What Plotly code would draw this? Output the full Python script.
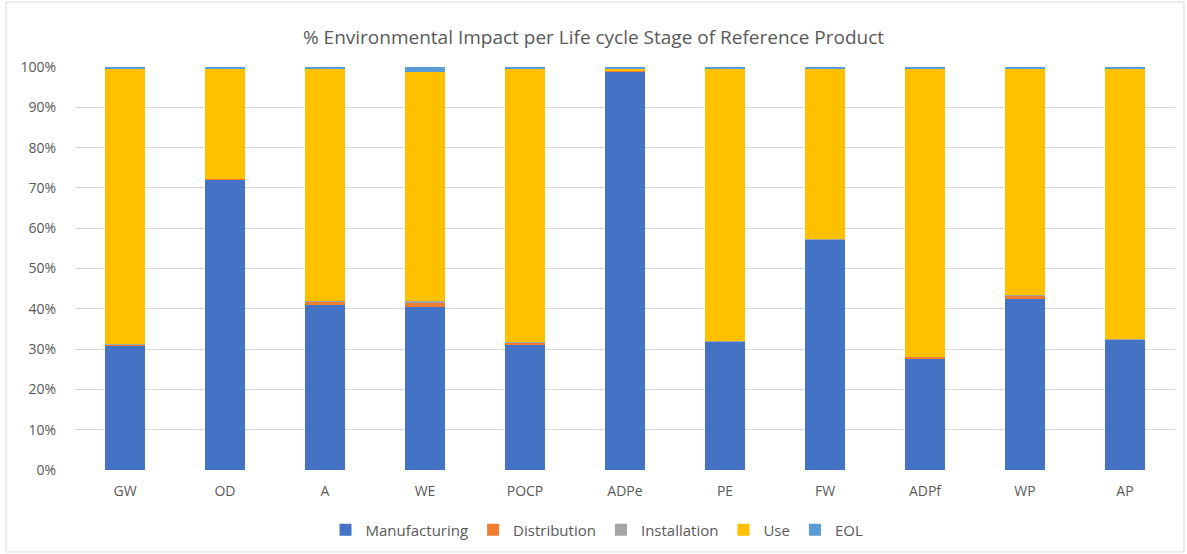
import plotly.graph_objects as go

categories = ["GW", "OD", "A", "WE", "POCP", "ADPe", "PE", "FW", "ADPf", "WP", "AP"]
manufacturing = [30.8, 72.2, 41.0, 40.5, 30.9, 99.0, 31.8, 57.2, 27.7, 42.5, 32.4]
distribution = [0.4, 0.05, 0.8, 1.0, 0.8, 0.05, 0.1, 0.05, 0.4, 0.9, 0.1]
installation = [0.05, 0.02, 0.2, 0.5, 0.1, 0.02, 0.05, 0.02, 0.05, 0.1, 0.05]
use = [68.35, 27.33, 57.6, 56.7, 67.8, 0.63, 67.65, 42.33, 71.45, 56.1, 67.05]
eol = [0.4, 0.4, 0.4, 1.3, 0.4, 0.3, 0.4, 0.4, 0.4, 0.4, 0.4]

series = [
    ("Manufacturing", manufacturing, "#4472C4"),
    ("Distribution", distribution, "#ED7D31"),
    ("Installation", installation, "#A5A5A5"),
    ("Use", use, "#FFC000"),
    ("EOL", eol, "#5B9BD5"),
]

FONT = "'Open Sans', Lato, sans-serif"
GRAY = "#595959"

fig = go.Figure()
for name, vals, color in series:
    fig.add_trace(go.Bar(name=name, x=categories, y=vals,
                         marker=dict(color=color, line=dict(width=0))))

fig.update_layout(
    barmode="stack",
    bargap=0.6,
    width=1187, height=554,
    margin=dict(l=75, r=12, t=67, b=84),
    paper_bgcolor="white", plot_bgcolor="white",
    font=dict(family=FONT, color=GRAY, size=14),
    title=dict(text="% Environmental Impact per Life cycle Stage of Reference Product",
               x=0.5, xanchor="center", y=1 - 37 / 554, yanchor="middle",
               font=dict(size=19, color=GRAY, family=FONT)),
    legend=dict(orientation="h", x=(597 - 75) / 1100, xanchor="center",
                yref="container", y=1 - 530 / 554, yanchor="middle",
                font=dict(size=15, color=GRAY),
                traceorder="normal", itemwidth=30),
    yaxis=dict(range=[0, 100], dtick=10, ticksuffix="%", showgrid=True,
               gridcolor="#d9d9d9", gridwidth=1, zeroline=False,
               showline=False, ticks="", tickfont=dict(size=14, color=GRAY),
               ticklabelstandoff=18, automargin=False, fixedrange=True),
    xaxis=dict(showline=False, ticks="", tickfont=dict(size=14, color=GRAY),
               ticklabelstandoff=11, automargin=False, fixedrange=True),
    shapes=[dict(type="rect", xref="paper", yref="paper",
                 x0=(6 - 75) / 1100, x1=(1184 - 75) / 1100,
                 y0=(470 - 552) / 403, y1=(470 - 2) / 403,
                 line=dict(color="#d9d9d9", width=1), layer="below")],
)

fig.write_html("out.html",
               config={"displayModeBar": False},
               post_script="document.body.style.margin='0';document.body.style.overflow='hidden';")
